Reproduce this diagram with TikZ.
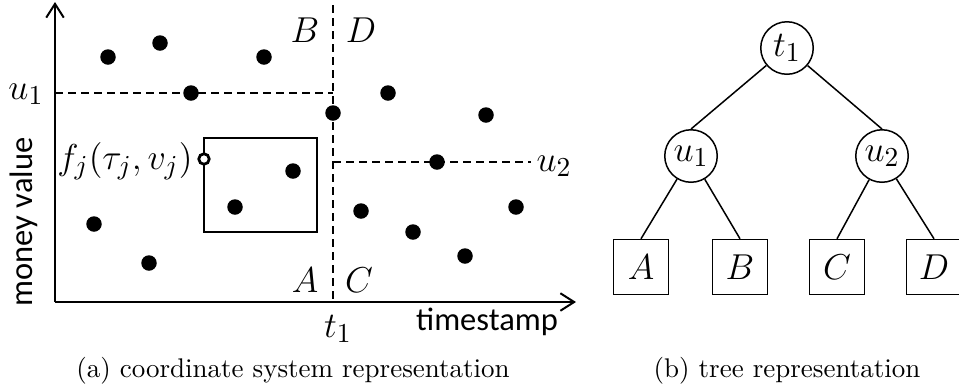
\documentclass[tikz,border=0pt]{standalone}
\usepackage{fontspec}
\newfontfamily\calibri{Carlito}
\usetikzlibrary{arrows.meta}

\tikzset{
  axis/.style={line width=0.8pt,-{Straight Barb[length=5.5pt,width=7pt]}},
  split/.style={line width=0.7pt,dash pattern=on 3.2pt off 2pt},
  dot/.style={circle,fill,inner sep=0pt,minimum size=6.2pt},
  opendot/.style={circle,draw,fill=white,line width=1.1pt,inner sep=0pt,minimum size=4.2pt},
  lbl/.style={font=\fontsize{15}{17}\selectfont,inner sep=0pt},
  sans/.style={font=\calibri\fontsize{13}{15}\selectfont,inner sep=0pt},
  inner/.style={circle,draw,line width=0.6pt,minimum size=21pt,inner sep=0pt,font=\fontsize{15}{17}\selectfont},
  leaf/.style={rectangle,draw,line width=0.6pt,minimum size=22pt,inner sep=0pt,font=\fontsize{15}{17}\selectfont},
  edge/.style={line width=0.6pt},
  caption/.style={font=\fontsize{10.8}{13}\selectfont}
}

\begin{document}
\begin{tikzpicture}[x=0.4pt,y=-0.4pt]
\useasboundingbox (0,0) rectangle (959,389);

% (a) coordinate system
\coordinate (O) at (55,302);
\coordinate (ytop) at (55,2);
\coordinate (xend) at (576,302);
\coordinate (t1top) at (333,5);
\coordinate (t1bot) at (333,302);
\coordinate (u1left) at (55,93);
\coordinate (u1right) at (333,93);
\coordinate (u2left) at (333,162);
\coordinate (u2right) at (531,162);

\draw[split] (t1top) -- (t1bot);
\draw[split] (u1left) -- (u1right);
\draw[split] (u2left) -- (u2right);
\draw[axis] (O) -- (ytop);
\draw[axis] (O) -- (xend);

% query box
\draw[line width=0.7pt] (204,138) rectangle (317,232);

\foreach \x/\y [count=\i] in {108/57, 160/43, 264/57, 191/93, 333/113, 388/93,
  486/115, 437/162, 293/171, 235/207, 94/224, 149/263, 361/211, 413/232,
  516/207, 465/256}
  \node[dot] (p\i) at (\x,\y) {};

\node[opendot] (fj) at (204,159) {};
\node[lbl,anchor=east] (fjlab) at (193,161) {$f_j(\tau_j,v_j)$};

\node[lbl] (u1lab) at (26,94) {$u_1$};
\node[lbl] (u2lab) at (554,166) {$u_2$};
\node[lbl] (t1lab) at (338,329) {$t_1$};
\node[lbl] (Blab) at (305,30) {$B$};
\node[lbl] (Dlab) at (361,30) {$D$};
\node[lbl] (Alab) at (305,280) {$A$};
\node[lbl] (Clab) at (359,280) {$C$};

\node[sans] (xlab) at (487,322) {timestamp};
\node[sans,rotate=90] (ylab) at (24,222) {money value};

\node[caption] (capa) at (293,371) {(a) coordinate system representation};

% (b) tree
\node[inner] (t1) at (787,48) {$t_1$};
\node[inner] (u1) at (691,156) {$u_1$};
\node[inner] (u2) at (882,156) {$u_2$};
\node[leaf] (A) at (641,267) {$A$};
\node[leaf] (B) at (740,267) {$B$};
\node[leaf] (C) at (837,267) {$C$};
\node[leaf] (D) at (934,267) {$D$};

\draw[edge] (t1) -- (u1.north);
\draw[edge] (t1) -- (u2.north);
\draw[edge] (u1) -- (A.north);
\draw[edge] (u1) -- (B.north);
\draw[edge] (u2) -- (C.north);
\draw[edge] (u2) -- (D.north);

\node[caption] (capb) at (787,371) {(b) tree representation};
\end{tikzpicture}
\end{document}
